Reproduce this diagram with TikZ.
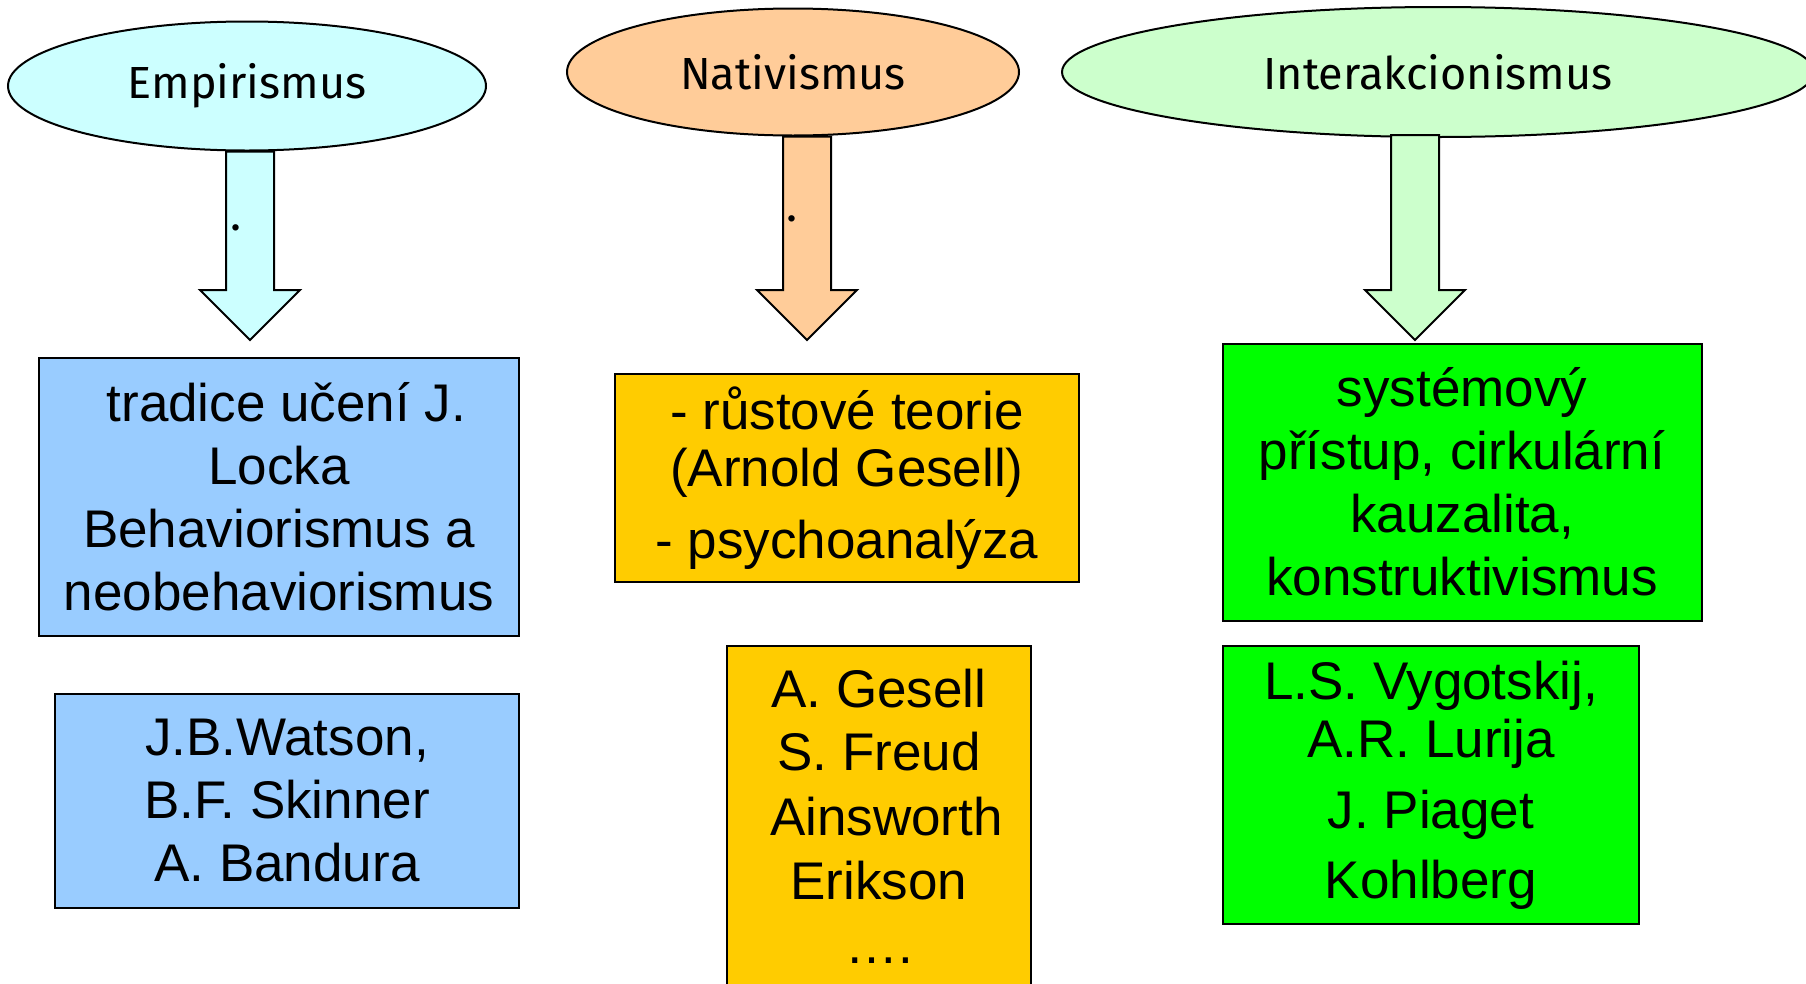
\documentclass[tikz,border=0pt]{standalone}
\usepackage{fontspec}
\setmainfont{Liberation Sans}
\newfontfamily\schoolfamily{Fira Sans}
\usetikzlibrary{positioning,shapes.geometric,calc}

\definecolor{empcyan}{HTML}{CCFFFF}
\definecolor{natpeach}{HTML}{FFCC99}
\definecolor{intmint}{HTML}{CCFFCC}
\definecolor{boxblue}{HTML}{99CCFF}
\definecolor{boxorange}{HTML}{FFCC00}
\definecolor{boxgreen}{HTML}{00FF00}

\tikzset{
    school/.style={ellipse, draw, line width=2pt, inner sep=0pt,
        font=\schoolfamily\fontsize{45pt}{50pt}\selectfont},
    textbox/.style={rectangle, draw, line width=2pt, inner sep=0pt, align=center,
        font=\fontsize{53pt}{63pt}\selectfont},
    arrowline/.style={draw, line width=2pt, line join=miter},
    arrowdot/.style={inner sep=0pt, font=\schoolfamily\fontsize{46pt}{50pt}\selectfont}
}

% block arrow from #1 (top of shaft) down to #2 (tip)
\newcommand{\blockarrow}[3]{%
    \draw[arrowline, fill=#3] ($(#1)+(-24,0)$) -- ($(#2)+(-24,-50)$) -- ($(#2)+(-50,-50)$)
        -- (#2) -- ($(#2)+(50,-50)$) -- ($(#2)+(24,-50)$) -- ($(#1)+(24,0)$) -- cycle;
}

\begin{document}
\begin{tikzpicture}[x=1pt, y=-1pt]
    \clip (0,0) rectangle (1806,983);

    % Schools
    \node[school, fill=empcyan, minimum width=478pt, minimum height=129pt] (emp) at (247,86) {Empirismus};
    \node[school, fill=natpeach, minimum width=452pt, minimum height=127pt] (nat) at (793,72) {Nativismus};
    \node[school, fill=intmint, minimum width=752pt, minimum height=130pt] (int) at (1438,72) {Interakcionismus};

    % Block arrows
    \coordinate (t1) at (250,340);
    \coordinate (t2) at (807,340);
    \coordinate (t3) at (1415,340);
    \coordinate (a1) at (emp.south -| t1);
    \coordinate (a2) at (nat.south -| t2);
    \coordinate (a3) at (1415,135);
    \blockarrow{a1}{t1}{empcyan}
    \blockarrow{a2}{t2}{natpeach}
    \blockarrow{a3}{t3}{intmint}
    \node[arrowdot] (dot1) at (236,228) {.};
    \node[arrowdot] (dot2) at (792,219) {.};

    % Empirismus boxes
    \node[textbox, fill=boxblue, minimum width=480pt, minimum height=278pt] (empidea) at (279,497)
        {~tradice učení J.\\ Locka\\ Behaviorismus a\\ neobehaviorismus};
    \node[textbox, fill=boxblue, minimum width=464pt, minimum height=214pt] (empnames) at (287,801)
        {J.B.Watson,\\ B.F. Skinner\\ A. Bandura};

    % Nativismus boxes
    \node[textbox, fill=boxorange, minimum width=464pt, minimum height=208pt] (natidea) at (847,478)
        {- růstové teorie\\[-6pt] (Arnold Gesell)\\[9pt] - psychoanalýza};
    \node[textbox, fill=boxorange, minimum width=304pt, minimum height=340pt] (natnames) at (879,816)
        {A. Gesell\\ S. Freud\\[2pt] ~Ainsworth\\[1pt] Erikson\\[1pt] \dots.};

    % Interakcionismus boxes
    \node[textbox, fill=boxgreen, minimum width=479pt, minimum height=277pt] (intidea) at (1462,482)
        {systémový\\ přístup, cirkulární\\ kauzalita,\\ konstruktivismus};
    \node[textbox, fill=boxgreen, minimum width=416pt, minimum height=278pt] (intnames) at (1431,785)
        {L.S. Vygotskij,\\[-5pt] A.R. Lurija\\[8pt] J. Piaget\\[7pt] Kohlberg};
\end{tikzpicture}
\end{document}
